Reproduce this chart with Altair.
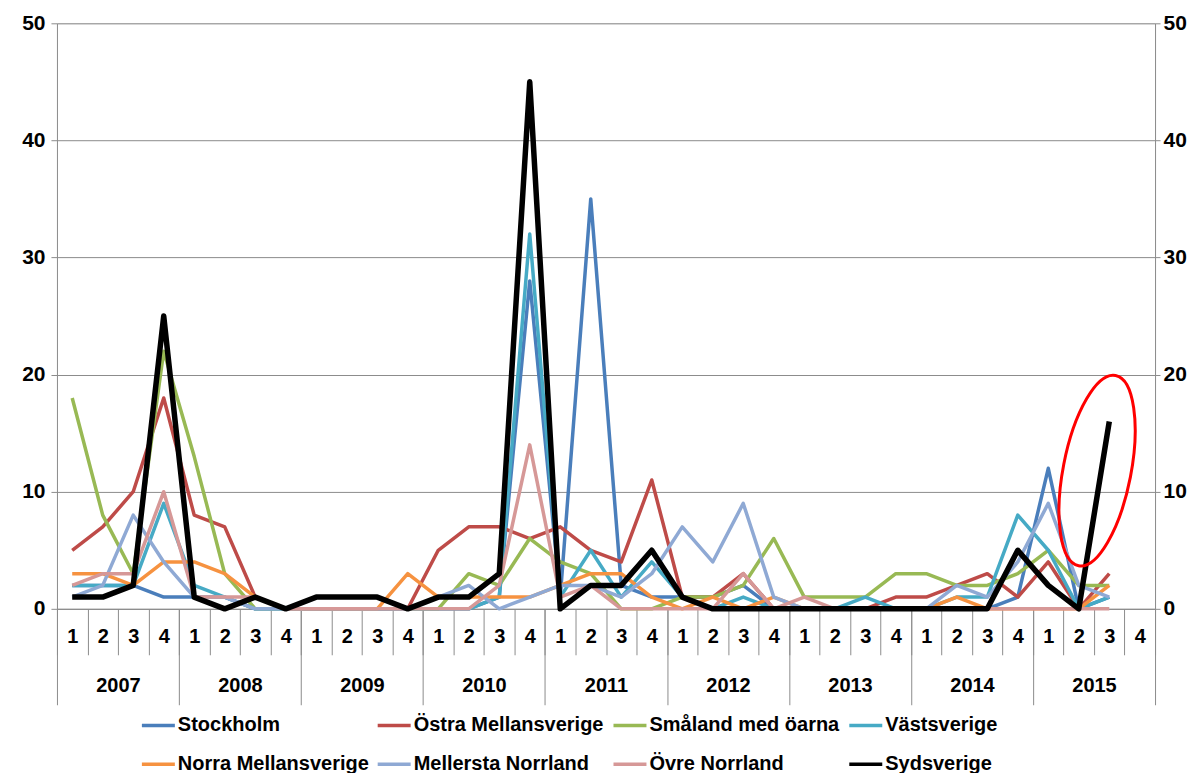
import altair as alt
import pandas as pd

# ---------------- data ----------------
years = [2007, 2008, 2009, 2010, 2011, 2012, 2013, 2014, 2015]
quarter_labels = ["1", "2", "3", "4"]

series_names = ["Stockholm", "Östra Mellansverige", "Småland med öarna", "Västsverige",
                "Norra Mellansverige", "Mellersta Norrland", "Övre Norrland", "Sydsverige"]
series_colors = ["#4A7EBB", "#BE4B48", "#98B954", "#46AAC5",
                 "#F69240", "#8FA9D4", "#D69897", "#000000"]

stockholm = [2, 2, 2, 1, 1, 1, 0, 0, 0, 0, 0, 0, 0, 0, 1, 28, 1, 35, 2, 1,
             1, 1, 2, 0, 0, 0, 0, 0, 0, 0, 0, 1, 12, 0, 1]
ostra = [5, 7, 10, 18, 8, 7, 1, 0, 0, 0, 0, 0, 5, 7, 7, 6, 7, 5, 4, 11,
         1, 1, 3, 0, 0, 0, 0, 1, 1, 2, 3, 1, 4, 0, 3]
smaland = [18, 8, 3, 22, 13, 3, 0, 0, 0, 0, 0, 0, 0, 3, 2, 6, 4, 3, 0, 0,
           1, 1, 2, 6, 1, 1, 1, 3, 3, 2, 2, 3, 5, 2, 2]
vastsverige = [2, 2, 2, 9, 2, 1, 0, 0, 0, 0, 0, 0, 0, 0, 1, 32, 1, 5, 1, 4,
               1, 0, 1, 0, 0, 0, 1, 0, 0, 1, 1, 8, 5, 0, 1]
norra = [3, 3, 2, 4, 4, 3, 1, 0, 0, 0, 0, 3, 1, 1, 1, 1, 2, 3, 3, 1,
         0, 1, 0, 1, 0, 0, 0, 0, 0, 1, 0, 0, 0, 0, 2]
mellersta = [1, 2, 8, 4, 1, 1, 0, 0, 0, 0, 0, 0, 1, 2, 0, 1, 2, 2, 1, 3,
             7, 4, 9, 1, 0, 0, 0, 0, 0, 2, 1, 4, 9, 2, 1]
ovre = [2, 3, 3, 10, 1, 1, 1, 0, 0, 0, 0, 0, 0, 0, 2, 14, 1, 2, 0, 0,
        0, 0, 3, 0, 1, 0, 0, 0, 0, 0, 0, 0, 0, 0, 0]
sydsverige = [1, 1, 2, 25, 1, 0, 1, 0, 1, 1, 1, 0, 1, 1, 3, 45, 0, 2, 2, 5,
              1, 0, 0, 0, 0, 0, 0, 0, 0, 0, 0, 5, 2, 0, 16]

# annotation ellipse (data coordinates: quarter position, value)
ellipse_pos = [34.1]
ellipse_value = [11.8]

all_series = [stockholm, ostra, smaland, vastsverige, norra, mellersta, ovre, sydsverige]
rows = []
for name, vals in zip(series_names, all_series):
    for i, v in enumerate(vals):
        rows.append({"series": name, "pos": i + 0.5, "value": v})
df = pd.DataFrame(rows)
ell_df = pd.DataFrame({"pos": ellipse_pos, "value": ellipse_value})

# ---------------- style ----------------
FONT = "Liberation Sans"
GRAY = "#8C8C8C"
n_q = len(years) * len(quarter_labels)

x_scale = alt.Scale(domain=[0, n_q], nice=False, zero=False)
y_scale = alt.Scale(domain=[0, 50], nice=False)
color_scale = alt.Scale(domain=series_names, range=series_colors)
y_vals = [0, 10, 20, 30, 40, 50]

legend = alt.Legend(
    orient="none", legendX=83, legendY=684, direction="horizontal", columns=4,
    symbolType="stroke", symbolSize=1089, symbolStrokeWidth=3.5,
    labelFont=FONT, labelFontSize=20, labelFontWeight="bold", labelColor="#000000",
    labelLimit=500, labelOffset=1, columnPadding=1, rowPadding=10,
    gridAlign="all", title=None, padding=0,
)

axis_common = dict(labelFont=FONT, labelFontSize=20, labelFontWeight="bold",
                   labelColor="#000000", title=None)
y_common = dict(labelFont=FONT, labelFontSize=21, labelFontWeight="bold",
                labelColor="#000000", title=None)

x_quarter_axis = alt.Axis(
    orient="bottom", values=list(range(n_q + 1)), tickSize=46, tickColor=GRAY,
    domainColor=GRAY, grid=False, labelOffset=15.26, labelPadding=-18,
    labelBaseline="middle", labelFlush=False, labelOverlap=False,
    labelExpr="datum.value < %d ? (datum.value %% 4) + 1 : ''" % n_q,
    **axis_common,
)
x_year_axis = alt.Axis(
    orient="bottom", values=list(range(0, n_q + 1, 4)), tickSize=96, tickColor=GRAY,
    domain=False, grid=False, labelOffset=61.05, labelPadding=-19,
    labelBaseline="middle", labelFlush=False, labelOverlap=False,
    labelExpr="datum.value < %d ? %d + datum.value / 4 : ''" % (n_q, years[0]),
    **axis_common,
)
y_left_axis = alt.Axis(
    orient="left", values=y_vals, grid=True, gridColor=GRAY, tickSize=6,
    tickColor=GRAY, domainColor=GRAY, labelPadding=6, **y_common,
)
y_right_axis = alt.Axis(
    orient="right", values=y_vals, grid=False, tickSize=5,
    tickColor=GRAY, domainColor=GRAY, labelPadding=3, **y_common,
)

others = alt.Chart(df).transform_filter(
    alt.datum.series != "Sydsverige"
).mark_line(strokeWidth=3.5, strokeJoin="round").encode(
    x=alt.X("pos:Q", scale=x_scale, axis=x_quarter_axis),
    y=alt.Y("value:Q", scale=y_scale, axis=y_left_axis),
    color=alt.Color("series:N", scale=color_scale, sort=series_names, legend=legend),
)

black = alt.Chart(df).transform_filter(
    alt.datum.series == "Sydsverige"
).mark_line(strokeWidth=5.5, strokeJoin="round").encode(
    x=alt.X("pos:Q", scale=x_scale, axis=x_year_axis),
    y=alt.Y("value:Q", scale=y_scale, axis=y_right_axis),
    color=alt.Color("series:N", scale=color_scale, sort=series_names, legend=legend),
)

ELLIPSE = "M0,-1 A0.35,1 0 1,1 0,1 A0.35,1 0 1,1 0,-1 Z"
ellipse = alt.Chart(ell_df).mark_point(
    shape=ELLIPSE, size=37636, angle=11, filled=False, color="#FF0000",
    strokeWidth=3, opacity=1,
).encode(
    x=alt.X("pos:Q", scale=x_scale, axis=None),
    y=alt.Y("value:Q", scale=y_scale, axis=None),
)

chart = alt.layer(others, black, ellipse).resolve_axis(
    x="independent", y="independent"
).properties(
    width=1099, height=586,
    padding={"left": 49, "top": 15, "right": 40, "bottom": 164},
    autosize=alt.AutoSizeParams(type="none"),
).configure_view(stroke=None).configure(background="#FFFFFF")

chart.save("out.html", embed_options={"renderer": "svg", "actions": False})
